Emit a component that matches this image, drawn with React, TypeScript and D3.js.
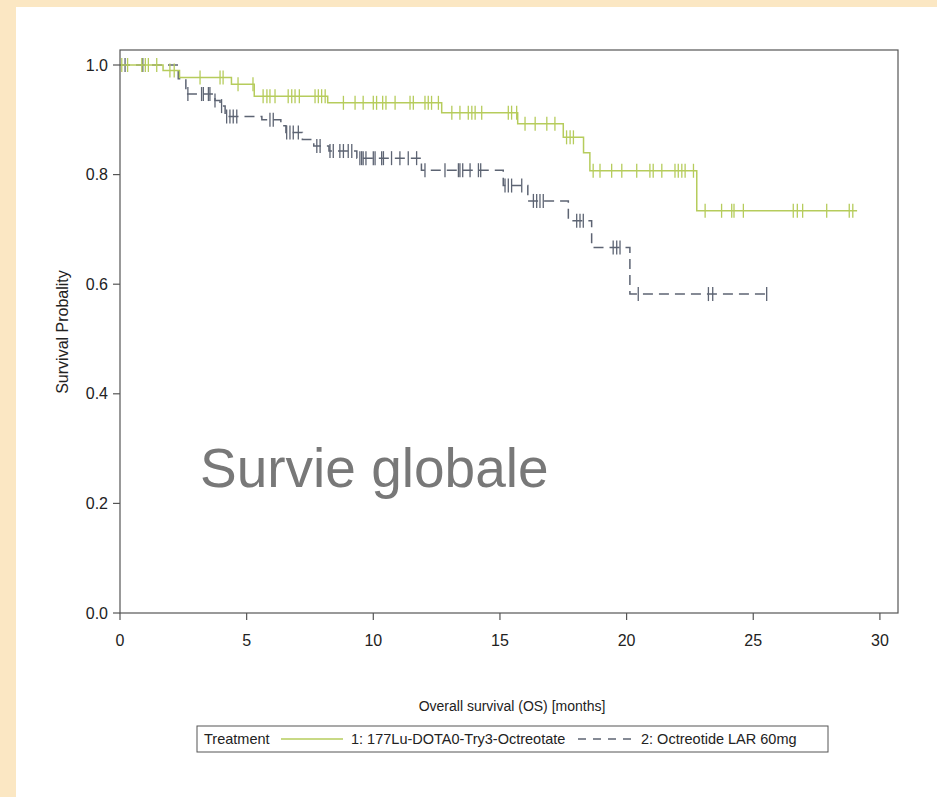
import React from 'react';
import * as d3 from 'd3';

// Kaplan-Meier steps: time (months) of each drop and survival right after it
const lutEventTimes = [1.7, 2.35, 4.4, 5.3, 8.2, 12.7, 15.7, 17.5, 18.3, 18.55, 22.77];
const lutEventSurv = [0.99, 0.977, 0.965, 0.943, 0.931, 0.913, 0.893, 0.868, 0.84, 0.807, 0.734];
const lutEnd = 29.1;
const lutCensored = [
  0.07, 0.3, 0.86, 1.0, 1.12, 1.45, 1.97, 2.14, 3.16, 3.95, 4.07, 4.66, 5.25, 5.65, 5.8, 5.92, 6.12,
  6.64, 6.78, 6.91, 7.08, 7.7, 7.83, 7.96, 8.1, 8.82, 9.28, 9.6, 10.0, 10.13, 10.37, 10.5, 10.86,
  11.45, 11.58, 12.04, 12.17, 12.3, 12.57, 13.1, 13.42, 13.75, 13.89, 14.02, 14.28, 15.33, 15.46,
  15.66, 15.99, 16.39, 16.85, 17.17, 17.63, 17.77, 17.9, 18.68, 18.95, 19.41, 19.81, 20.4, 20.92,
  21.05, 21.39, 21.91, 22.04, 22.18, 22.31, 22.64, 23.1, 23.75, 24.15, 24.24, 24.61, 26.58, 26.74,
  26.95, 27.9, 28.79, 28.93,
];

const octEventTimes = [2.3, 2.6, 3.75, 3.95, 4.15, 5.6, 6.35, 6.55, 7.2, 7.65, 8.25, 9.35, 11.9, 15.13, 16.1, 17.7, 18.62, 20.13];
const octEventSurv = [0.975, 0.947, 0.935, 0.925, 0.906, 0.9, 0.889, 0.877, 0.864, 0.852, 0.843, 0.83, 0.808, 0.78, 0.752, 0.716, 0.667, 0.582];
const octEnd = 25.53;
const octCensored = [
  0.2, 0.9, 2.68, 3.22, 3.29, 3.49, 3.55, 3.75, 4.01, 4.21, 4.34, 4.47, 4.61, 5.92, 6.05, 6.58,
  6.71, 6.84, 7.04, 7.77, 7.9, 8.29, 8.42, 8.68, 8.82, 9.01, 9.15, 9.47, 9.54, 9.6, 9.71, 10.0,
  10.07, 10.33, 10.4, 10.72, 11.05, 11.38, 11.71, 12.04, 12.83, 13.36, 13.42, 13.53, 13.82, 14.15,
  14.24, 15.2, 15.33, 15.46, 15.86, 16.32, 16.45, 16.58, 16.71, 18.03, 18.16, 18.29, 19.47, 19.61,
  19.74, 20.46, 23.23, 23.4, 25.53,
];

const xTicks = [0, 5, 10, 15, 20, 25, 30];
const yTicks = [0, 0.2, 0.4, 0.6, 0.8, 1.0];

const legendLabels = ['1: 177Lu-DOTA0-Try3-Octreotate', '2: Octreotide LAR 60mg'];

const GREEN = '#b6cc5c';
const GRAY = '#5d6473';
const FONT = '"Liberation Sans", Arial, sans-serif';

type Curve = { times: number[]; surv: number[]; end: number; cens: number[] };

const stepPoints = (c: Curve): [number, number][] => {
  const pts: [number, number][] = [[0, 1]];
  c.times.forEach((t, i) => pts.push([t, c.surv[i]]));
  pts.push([c.end, c.surv[c.surv.length - 1]]);
  return pts;
};

const survAt = (c: Curve, t: number) => {
  let s = 1;
  c.times.forEach((ti, i) => {
    if (ti <= t) s = c.surv[i];
  });
  return s;
};

export default function App() {
  const W = 937;
  const H = 797;
  const left = 120;
  const right = 898;
  const top = 50;
  const bottom = 613;

  const x = d3.scaleLinear().domain([0, 30]).range([left, left + 30 * 25.33]);
  const y = d3.scaleLinear().domain([0, 1]).range([bottom, 65]);

  const line = d3
    .line<[number, number]>()
    .x(d => x(d[0]))
    .y(d => y(d[1]))
    .curve(d3.curveStepAfter);

  const curves: { c: Curve; color: string; dash?: string }[] = [
    { c: { times: octEventTimes, surv: octEventSurv, end: octEnd, cens: octCensored }, color: GRAY, dash: '10,6' },
    { c: { times: lutEventTimes, surv: lutEventSurv, end: lutEnd, cens: lutCensored }, color: GREEN },
  ];

  return (
    <svg
      width={W}
      height={H}
      style={{ position: 'absolute', left: 0, top: 0, fontFamily: FONT }}
    >
      <rect x={0} y={0} width={W} height={H} fill="#fbe7c3" />
      <rect x={16} y={7} width={W - 16} height={H - 7} fill="#ffffff" />

      {curves.map(({ c, color, dash }, k) => (
        <g key={k}>
          <path d={line(stepPoints(c)) || ''} fill="none" stroke={color} strokeWidth={1.5} strokeDasharray={dash} />
          {c.cens.map((t, i) => {
            const cy = y(survAt(c, t));
            return <line key={i} x1={x(t)} x2={x(t)} y1={cy - 7} y2={cy + 7} stroke={color} strokeWidth={1.3} />;
          })}
        </g>
      ))}

      <rect x={left} y={top} width={right - left} height={bottom - top} fill="none" stroke="#555" strokeWidth={1.2} />

      {yTicks.map(v => (
        <g key={v}>
          <line x1={left - 7} x2={left} y1={y(v)} y2={y(v)} stroke="#555" strokeWidth={1.2} />
          <text x={left - 12} y={y(v)} dy="0.35em" textAnchor="end" fontSize={16} fill="#222">
            {v.toFixed(1)}
          </text>
        </g>
      ))}
      {xTicks.map(v => (
        <g key={v}>
          <line x1={x(v)} x2={x(v)} y1={bottom} y2={bottom + 7} stroke="#555" strokeWidth={1.2} />
          <text x={x(v)} y={bottom + 33} textAnchor="middle" fontSize={16} fill="#222">
            {v}
          </text>
        </g>
      ))}

      <text
        transform={`translate(68,332) rotate(-90)`}
        textAnchor="middle"
        fontSize={16}
        fill="#222"
      >
        Survival Probality
      </text>
      <text x={(left + right) / 2 + 3} y={711} textAnchor="middle" fontSize={14} fill="#222">
        Overall survival (OS) [months]
      </text>

      <text x={200} y={487} fontSize={55} fill="#787878">
        Survie globale
      </text>

      <g>
        <rect x={197} y={726} width={631} height={26} fill="#fff" stroke="#555" strokeWidth={1} />
        <text x={204} y={744} fontSize={14.5} fill="#222">Treatment</text>
        <line x1={281} x2={343} y1={739} y2={739} stroke={GREEN} strokeWidth={1.5} />
        <text x={351} y={744} fontSize={14.5} fill="#222">{legendLabels[0]}</text>
        <line x1={578} x2={632} y1={739} y2={739} stroke={GRAY} strokeWidth={1.3} strokeDasharray="8,7" />
        <text x={641} y={744} fontSize={14.5} fill="#222">{legendLabels[1]}</text>
      </g>
    </svg>
  );
}
